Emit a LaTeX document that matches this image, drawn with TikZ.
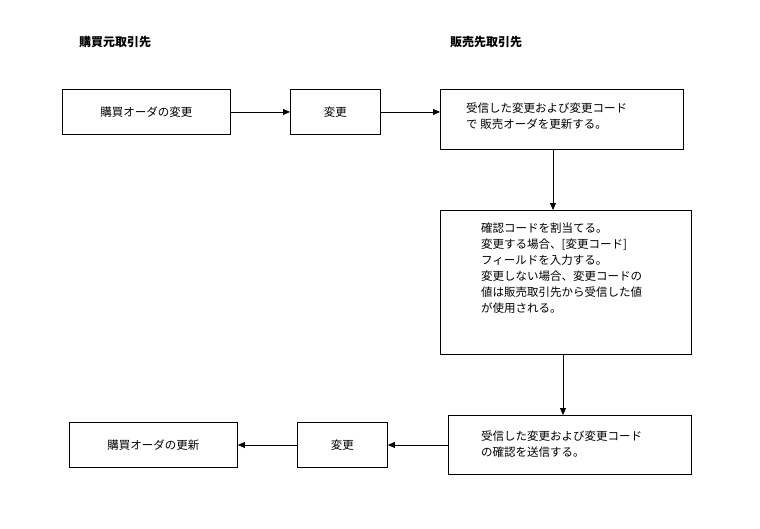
\documentclass[tikz,border=0pt]{standalone}
\usepackage{fontspec}
\setmainfont{Noto Sans CJK JP}
\usetikzlibrary{arrows.meta}
\tikzset{
  box/.style={draw=black, line width=0.9pt, fill=white, inner sep=0pt, anchor=north west},
  txt/.style={font=\fontsize{11.5}{16}\selectfont, align=left, inner sep=0pt},
  ttl/.style={font=\fontsize{12}{16}\selectfont\bfseries, inner sep=0pt, anchor=west},
  arr/.style={draw=black, line width=0.8pt, -{Triangle[length=7pt,width=6pt]}}
}
\begin{document}
\begin{tikzpicture}[x=1pt,y=-1pt]
\useasboundingbox[fill=white] (0,0) rectangle (760,528);
% titles
\node[ttl] (t1) at (79,42) {購買元取引先};
\node[ttl] (t2) at (450,42) {販売先取引先};
% top row
\node[box, minimum width=168pt, minimum height=45pt] (a) at (62,89) {};
\node[txt] (at) at (a.center) {購買オーダの変更};
\node[box, minimum width=90pt, minimum height=45pt] (b) at (290,89) {};
\node[txt] (bt) at (b.center) {変更};
\node[box, minimum width=243pt, minimum height=60pt] (c) at (440,89) {};
\node[txt, anchor=west] (ct) at (466,116) {受信した変更および変更コード\\で 販売オーダを更新する。};
% middle
\node[box, minimum width=251pt, minimum height=144pt] (d) at (440,210) {};
\node[txt, anchor=north west] (dt) at (481,223) {確認コードを割当てる。\\変更する場合、[変更コード]\\フィールドを入力する。\\変更しない場合、変更コードの\\値は販売取引先から受信した値\\が使用される。};
% bottom row
\node[box, minimum width=243pt, minimum height=59pt] (e) at (448,415) {};
\node[txt, anchor=west] (et) at (481,444) {受信した変更および変更コード\\の確認を送信する。};
\node[box, minimum width=90pt, minimum height=45pt] (f) at (297,422) {};
\node[txt] (ft) at (f.center) {変更};
\node[box, minimum width=168pt, minimum height=45pt] (g) at (69,422) {};
\node[txt] (gt) at (g.center) {購買オーダの更新};
% connectors
\draw[arr] (a.east) -- (b.west);
\draw[arr] (b.east) -- (b.east -| c.west);
\draw[arr] (c.south -| 553,0) -- (d.north -| 553,0);
\draw[arr] (d.south -| 563,0) -- (e.north -| 563,0);
\draw[arr] (e.west |- f.east) -- (f.east);
\draw[arr] (f.west) -- (g.east);
\end{tikzpicture}
\end{document}
